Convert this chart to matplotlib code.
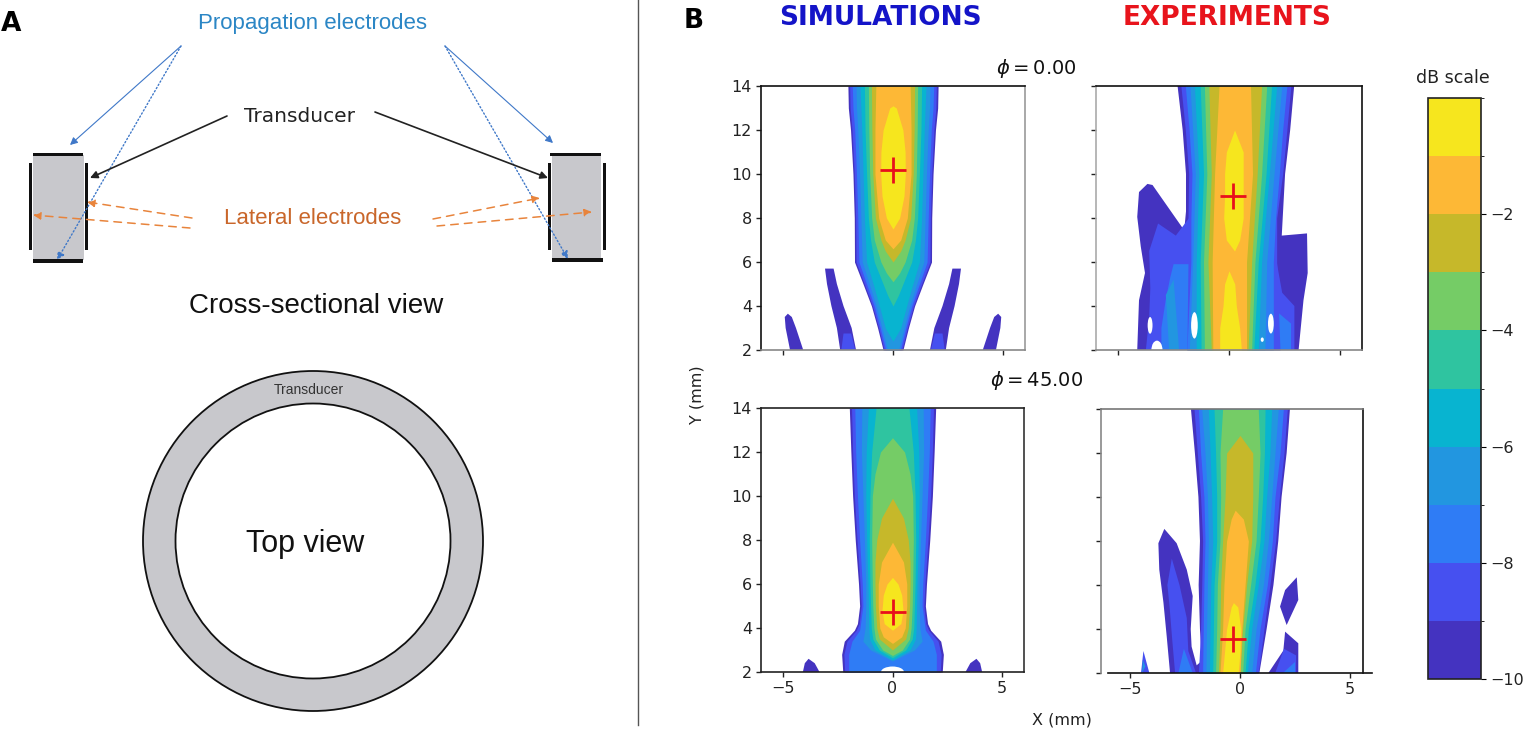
import matplotlib
matplotlib.use("Agg")
import matplotlib.pyplot as plt
from matplotlib.patches import Circle, Ellipse, Rectangle
from matplotlib.colors import ListedColormap, BoundaryNorm
from matplotlib.cm import ScalarMappable
import numpy as np

W, H = 1536, 731

# dB bands, from -10 up to 0
db_levels = [-10, -9, -8, -7, -6, -5, -4, -3, -2, -1, 0]
db_colors = ["#4433c0", "#4650f0", "#2f7cf5", "#2296e0", "#08b4d0",
             "#2fc4a0", "#75cc66", "#c6b82a", "#fdb836", "#f6e61e"]
cbar_ticks = [-2, -4, -6, -8, -10]
y_ticks = [2, 4, 6, 8, 10, 12, 14]
x_ticks = [-5, 0, 5]

# peak positions (x, y) in mm
peak_sim0 = (0.0, 10.2)
peak_exp0 = (0.2, 9.0)
peak_sim45 = (0.0, 4.75)
peak_exp45 = (-0.3, 3.55)

# simulations: (level, y, half width of the contour)
sim0_beam = [
    (-10, [2, 3, 4, 5, 6, 8, 10, 12, 13, 14], [.45, .7, .98, 1.36, 1.75, 1.76, 1.82, 1.93, 2.03, 2.05]),
    (-9, [2, 3, 4, 5, 6, 8, 10, 12, 13, 14], [.4, .65, .93, 1.3, 1.68, 1.70, 1.76, 1.86, 1.95, 1.97]),
    (-8, [2, 3, 4, 5, 6, 8, 10, 12, 13, 14], [.33, .58, .85, 1.2, 1.55, 1.6, 1.66, 1.74, 1.82, 1.85]),
    (-7, [2, 3, 4, 5, 6, 8, 10, 12, 13, 14], [.25, .5, .76, 1.08, 1.4, 1.46, 1.52, 1.6, 1.66, 1.68]),
    (-6, [2.4, 3, 4, 5, 6, 8, 10, 12, 14], [0, .35, .62, .9, 1.2, 1.3, 1.36, 1.42, 1.5]),
    (-5, [4.0, 4.5, 5, 6, 7, 8, 10, 12, 14], [0, .25, .45, .85, 1.02, 1.12, 1.2, 1.27, 1.3]),
    (-4, [5.1, 5.5, 6, 7, 8, 10, 12, 14], [0, .3, .55, .85, .97, 1.06, 1.1, 1.12]),
    (-3, [6.0, 6.5, 7, 8, 10, 12, 14], [0, .35, .55, .8, .92, .96, .98]),
    (-2, [6.6, 7, 8, 10, 12, 14], [0, .35, .65, .82, .82, .78]),
    (-1, [7.5, 8, 9, 10, 11, 12, 13, 13.1], [0, .3, .5, .56, .55, .45, .15, 0]),
]
sim45_beam = [
    (-10, [2, 2.8, 3.4, 3.9, 4.2, 5, 6, 8, 10, 12, 14], [2.27, 2.32, 2.2, 1.74, 1.6, 1.5, 1.55, 1.7, 1.82, 1.9, 1.97]),
    (-9, [2, 2.8, 3.4, 3.9, 4.2, 5, 6, 8, 10, 12, 14], [2.18, 2.22, 2.08, 1.65, 1.52, 1.43, 1.48, 1.62, 1.74, 1.82, 1.87]),
    (-8, [2, 2.8, 3.4, 3.9, 5, 6, 8, 10, 12, 14], [2.0, 2.0, 1.85, 1.5, 1.35, 1.38, 1.5, 1.6, 1.68, 1.72]),
    (-7, [2.5, 3, 3.4, 4, 5, 6, 8, 10, 12, 14], [0, 1.0, 1.35, 1.25, 1.22, 1.22, 1.28, 1.35, 1.42, 1.4]),
    (-6, [2.55, 3, 3.5, 4, 5, 6, 8, 10, 12, 14], [0, .8, 1.05, 1.08, 1.1, 1.12, 1.18, 1.22, 1.2, 1.1]),
    (-5, [2.65, 3, 3.5, 4, 5, 6, 8, 10, 12, 14], [0, .6, .9, .97, 1.0, 1.03, 1.06, 1.03, .95, .75]),
    (-4, [2.75, 3, 3.5, 4, 5, 6, 8, 10, 11, 12, 12.65], [0, .45, .78, .85, .9, .92, .95, .92, .8, .55, 0]),
    (-3, [3.0, 3.5, 4, 5, 6, 7, 8, 9, 9.9], [0, .6, .72, .78, .8, .8, .72, .5, 0]),
    (-2, [3.3, 3.6, 4, 5, 6, 7, 7.9], [0, .42, .58, .65, .65, .5, 0]),
    (-1, [3.9, 4.2, 4.8, 5.5, 6, 6.3], [0, .38, .48, .42, .25, 0]),
]

# side lobes: (level, x, y), mirrored around x = 0 for the simulations
sim0_lobes = [
    (-10, [-4.68, -4.88, -4.92, -4.78, -4.6, -4.41, -4.08], [2, 3, 3.5, 3.65, 3.5, 3, 2]),
    (-10, [-2.4, -2.55, -2.8, -3.0, -3.09, -2.7, -2.55, -2.25, -1.88, -1.68], [2, 3, 4, 5, 5.7, 5.7, 5, 4, 3, 2]),
    (-9, [-2.35, -2.25, -1.9, -1.72], [2, 2.75, 2.75, 2]),
]
sim45_lobes = [
    (-10, [-4.09, -4.0, -3.83, -3.55, -3.33], [2, 2.4, 2.6, 2.4, 2]),
]
sim45_holes = [(0, 2, 1.05, 0.5)]

# experiments: outlines and lobes (level, x, y)
exp0_lobes = [
    (-10, [-2.32, -2.09, -1.94, -1.94, -2.02, -3.45, -3.68, -4.06, -4.14, -3.98, -3.79, -4.06, -4.14,
           3.14, 3.36, 3.55, 3.52, 2.38, 2.53, 2.76, 2.94],
     [14, 12, 10, 8.3, 7.44, 9.5, 9.55, 9.18, 8.05, 6.7, 5.5, 4.26, 2, 2, 4.26, 5.5, 7.3, 7.2, 10, 12, 14]),
    (-10, [-3.9, -3.8, -3.72, -3.6], [2, 2.6, 2.9, 2]),
    (-9, [-1.8, -2.4, -3.2, -3.6, -3.55, -3.6, -3.75, -1.0, 1.6, 2.95, 2.95, 2.4, 2.15, 2.1],
     [8, 7.2, 7.75, 6.5, 4.8, 3.5, 2, 2, 2, 2, 4, 4.6, 6, 7]),
    (-8, [-2.5, -2.65, -2.85, -3.05, -3.05, -1.5, -1.7], [5.9, 5.3, 4.3, 3, 2, 2, 5.9]),
    (-8, [1.6, 2.1, 2.8, 2.8, 2.1, 1.6], [2, 2, 2, 3.2, 3.8, 5.6]),
    (-7, [-2.7, -2.85, -2.5, -2.25], [2, 4.5, 5.2, 2]),
]
exp45_lobes = [
    (-10, [-2.23, -2.05, -1.89, -1.82, -1.88, -1.82, -1.74, -1.97, -2.2, -2.24, -2.15, -2.42, -2.88, -3.44,
           -3.71, -3.67, -3.48, -3.33, -3.18, .88, 1.21, 1.52, 1.74, 1.89, 2.12, 2.27],
     [14, 12, 10, 8, 6, 4, 2.55, 2.35, 3.2, 4, 5.5, 6.7, 7.9, 8.55, 7.9, 6.7, 5.2, 3.65, 2, 2, 4, 6, 8, 10, 12, 14]),
    (-10, [2.58, 2.65, 2.12, 1.82, 2.05], [6.35, 5.32, 4.18, 5.02, 5.77]),
    (-10, [2.05, 2.65, 2.65, 1.29, 1.97], [3.88, 3.35, 2, 2, 3.02]),
    (-9, [-4.39, -4.12, -4.5], [3.0, 2, 2]),
    (-9, [-3.1, -3.3, -3.2, -3.08, -2.95, -2.0, -2.35, -2.42, -2.75], [7.2, 6, 5, 3.5, 2, 2, 3, 4.5, 6]),
    (-9, [2.0, 2.55, 2.55, 1.6], [3.1, 2.8, 2, 2]),
    (-8, [-2.8, -2.55, -2.15], [2, 3.1, 2]),
    (-8, [1.95, 2.5, 2.5], [2, 2.5, 2]),
    (-7, [-4.45, -4.3, -4.42], [2, 2.3, 2.6]),
]

# experiments: (level, y, left contour, right contour)
exp0_y = [2, 6, 10, 14]
exp0_beam = [
    (-7, exp0_y, [-1.79, -1.64, -1.52, -1.76], [1.62, 1.70, 2.03, 2.38]),
    (-6, exp0_y, [-1.48, -1.48, -1.36, -1.56], [1.32, 1.47, 1.82, 2.15]),
    (-5, exp0_y, [-1.26, -1.30, -1.15, -1.30], [1.12, 1.32, 1.67, 1.92]),
    (-4, exp0_y, [-1.11, -1.15, -1.0, -1.11], [1.02, 1.17, 1.47, 1.70]),
    (-3, exp0_y, [-.80, -.95, -.80, -.91], [.86, 1.02, 1.27, 1.47]),
    (-2, exp0_y, [-.73, -.76, -.65, -.45], [.79, .79, 1.06, .97]),
    (-1, [6.5, 7, 8, 9, 10, 11, 12], [.25, -.12, -.24, -.2, -.2, -.12, .25], [.25, .48, .64, .64, .64, .64, .25]),
    (-1, [2, 3, 4, 5, 5.6], [-.42, -.42, -.27, -.2, 0], [.56, .48, .33, .26, 0]),
]
exp0_beam_outer = [
    (-9, [2, 6, 8, 10, 12, 14], [-1.9, -1.85, -1.85, -1.82, -1.97, -2.17], [2.3, 2.15, 2.15, 2.42, 2.61, 2.79]),
    (-8, [2, 6, 8, 10, 12, 14], [-1.9, -1.72, -1.72, -1.67, -1.8, -1.97], [2.0, 2.0, 2.1, 2.27, 2.42, 2.61]),
]
exp0_holes = [(-3.56, 3.12, .22, .76), (-1.56, 3.12, .3, 1.2), (1.89, 3.2, .26, .9), (1.5, 2.47, .14, .2),
              (-3.25, 2.0, .5, .85)]

exp45_y = [2, 4, 6, 8, 10, 12, 14]
exp45_beam = [
    (-9, exp45_y, [-1.89, -1.79, -1.74, -1.70, -1.79, -1.94, -2.09], [.83, 1.09, 1.36, 1.62, 1.79, 2.0, 2.15]),
    (-8, exp45_y, [-1.70, -1.67, -1.64, -1.59, -1.64, -1.79, -1.89], [.70, .91, 1.24, 1.47, 1.59, 1.82, 1.97]),
    (-7, exp45_y, [-1.55, -1.52, -1.48, -1.44, -1.48, -1.59, -1.74], [.53, .73, 1.06, 1.29, 1.44, 1.59, 1.74]),
    (-6, exp45_y, [-1.39, -1.36, -1.33, -1.24, -1.29, -1.36, -1.44], [.33, .53, .83, 1.09, 1.21, 1.36, 1.44]),
    (-5, exp45_y, [-1.24, -1.21, -1.18, -1.06, -1.06, -1.11, -1.18], [.23, .38, .68, .91, 1.03, 1.11, 1.14]),
    (-4, exp45_y, [-1.11, -1.06, -1.03, -.91, -.88, -.91, -.79], [.12, .23, .48, .73, .83, .91, .83]),
    (-3, [2, 4, 6, 8, 10, 12, 12.8], [-.98, -.91, -.88, -.79, -.68, -.61, 0], [0, .12, .30, .53, .58, .58, 0]),
    (-2, [2, 4, 6, 8, 9, 9.4], [-.91, -.79, -.73, -.61, -.4, -.22], [0, .08, .23, .38, .15, -.22]),
    (-1, [2, 3, 4, 5, 5.2], [-.79, -.7, -.61, -.4, -.3], [-.08, 0, .03, -.1, -.3]),
]


def px_axes(fig, l, t, r, b):
    return fig.add_axes([l / W, 1 - b / H, (r - l) / W, (b - t) / H])


def band_color(level):
    return db_colors[level + 10]


def draw_sim(ax, lobes, beam, holes=()):
    for level, xs, ys in lobes:
        ax.fill(xs, ys, color=band_color(level), lw=0)
        ax.fill(-np.array(xs), ys, color=band_color(level), lw=0)
    for level, ys, half in beam:
        half = np.array(half)
        ax.fill_betweenx(ys, -half, half, color=band_color(level), lw=0)
    for x, y, w, h in holes:
        ax.add_patch(Ellipse((x, y), w, h, color="white", lw=0))


def draw_exp(ax, layers, holes=()):
    for level, xs, ys in layers[0]:
        ax.fill(xs, ys, color=band_color(level), lw=0)
    for beam in layers[1:]:
        for level, ys, left, right in beam:
            ax.fill_betweenx(ys, left, right, color=band_color(level), lw=0)
    for x, y, w, h in holes:
        ax.add_patch(Ellipse((x, y), w, h, color="white", lw=0))


def setup_axes(ax, peak, spine_cols, xlabels=False, ylabels=False, tickcol="#222222"):
    ax.set_xlim(-6, 6)
    ax.set_ylim(2, 14)
    ax.set_xticks(x_ticks)
    ax.set_yticks(y_ticks)
    ax.tick_params(labelsize=11.5, length=3.5, width=1.0, color=tickcol, labelcolor="#222222", pad=3,
                   labelbottom=xlabels, labelleft=ylabels)
    for side, col in spine_cols.items():
        ax.spines[side].set_color(col)
        ax.spines[side].set_linewidth(1.2)
    ax.plot(peak[0], peak[1], "+", color="#e8101c", ms=19, mew=2, zorder=5, clip_on=False)


fig = plt.figure(figsize=(W / 100, H / 100), dpi=100)

# panel A is a drawing, done in picture pixels on an overlay
bg = fig.add_axes([0, 0, 1, 1])
bg.set_xlim(0, W)
bg.set_ylim(H, 0)
bg.axis("off")

gray = "#c8c8cc"
for gx0, gx1 in [(33, 84), (552, 601)]:
    bg.add_patch(Rectangle((gx0, 155), gx1 - gx0, 105, color=gray, lw=0))
for x0, x1, y0, y1 in [(33, 83, 152.5, 156), (33, 83, 259, 262.5), (29, 31.5, 163, 250), (85, 88, 163, 250),
                       (550, 601, 152.5, 156), (552, 603, 258, 261.5), (548, 551, 163, 250), (603, 606, 163, 250)]:
    bg.add_patch(Rectangle((x0, y0), x1 - x0, y1 - y0, color="#111111", lw=0))

blue = "#3f78c8"
for (sx, sy), (ex, ey), ls, lw in [((181, 46), (70, 145), "-", .8), ((181, 46), (57, 260), ":", 1.0),
                                   ((445, 46), (553, 143), "-", .8), ((445, 46), (568, 259), ":", 1.0)]:
    bg.annotate("", xy=(ex, ey), xytext=(sx, sy),
                arrowprops=dict(arrowstyle="-|>", color=blue, lw=lw, ls=ls, mutation_scale=11, shrinkA=0, shrinkB=0))
for (sx, sy), (ex, ey) in [((227, 116), (90, 178)), ((375, 112), (548, 178))]:
    bg.annotate("", xy=(ex, ey), xytext=(sx, sy),
                arrowprops=dict(arrowstyle="-|>", color="#222222", lw=1.2, mutation_scale=11, shrinkA=0, shrinkB=0))
orange = "#e8843c"
for (sx, sy), (ex, ey) in [((192, 218), (87, 202)), ((190, 228), (33, 215)),
                           ((433, 219), (540, 198)), ((437, 226), (592, 212))]:
    bg.annotate("", xy=(ex, ey), xytext=(sx, sy),
                arrowprops=dict(arrowstyle="-|>", color=orange, lw=1.1, ls=(0, (5, 4)), mutation_scale=11,
                                shrinkA=0, shrinkB=0))

bg.add_patch(Circle((313, 541), 170, fc=gray, ec="#111111", lw=1.3))
bg.add_patch(Circle((313, 541), 137.5, fc="white", ec="#111111", lw=1.3))

bg.plot([638, 638], [0, 725], color="#555555", lw=1.0)

font_a = "Liberation Sans"
bg.text(313, 24, "Propagation electrodes", color="#2b86c5", fontsize=16, family=font_a, ha="center", va="center")
bg.text(300, 116, "Transducer", color="#222222", fontsize=14.5, family="DejaVu Sans", ha="center", va="center")
bg.text(313, 219, "Lateral electrodes", color="#c9662a", fontsize=16, family=font_a, ha="center", va="center")
bg.text(316, 306, "Cross-sectional view", color="#111111", fontsize=20, family=font_a, ha="center", va="center")
bg.text(305, 544, "Top view", color="#111111", fontsize=22, family=font_a, ha="center", va="center")
bg.text(309, 390, "Transducer", color="#333333", fontsize=10, family=font_a, ha="center", va="center")
bg.text(11, 24, "A", color="black", fontsize=19, fontweight="bold", ha="center", va="center")
bg.text(694, 21, "B", color="black", fontsize=19, fontweight="bold", ha="center", va="center")
bg.text(880, 18, "SIMULATIONS", color="#1414c8", fontsize=19, fontweight="bold", ha="center", va="center")
bg.text(1227, 18, "EXPERIMENTS", color="#e8141c", fontsize=19, fontweight="bold", ha="center", va="center")
bg.text(1036, 69, r"$\phi = 0.00$", color="#111111", fontsize=14, ha="center", va="center")
bg.text(1037, 381, r"$\phi = 45.00$", color="#111111", fontsize=14, ha="center", va="center")
bg.text(1453, 78, "dB scale", color="#222222", fontsize=12.5, ha="center", va="center")
bg.text(697, 395, "Y (mm)", color="#222222", fontsize=11.5, rotation=90, ha="center", va="center")
bg.text(1062, 720, "X (mm)", color="#222222", fontsize=11.5, ha="center", va="center")

# panel B
ax1 = px_axes(fig, 761, 86, 1025, 350)
draw_sim(ax1, sim0_lobes, sim0_beam)
setup_axes(ax1, peak_sim0, dict(top="#111111", left="#111111", right="#999999", bottom="#888888"), ylabels=True)

ax2 = px_axes(fig, 1096, 86, 1362, 350)
draw_exp(ax2, [exp0_lobes, exp0_beam_outer, exp0_beam], exp0_holes)
setup_axes(ax2, peak_exp0, dict(top="#111111", left="#aaaaaa", right="#111111", bottom="#888888"))

ax3 = px_axes(fig, 761, 408, 1024, 672)
draw_sim(ax3, sim45_lobes, sim45_beam, sim45_holes)
setup_axes(ax3, peak_sim45, dict(top="#222222", left="#222222", right="#333333", bottom="#222222"),
           xlabels=True, ylabels=True)

ax4 = px_axes(fig, 1108, 409, 1372, 673)
draw_exp(ax4, [exp45_lobes, exp45_beam])
setup_axes(ax4, peak_exp45, dict(top="#777777", left="#888888", right="#111111", bottom="#111111"), xlabels=True)
# this panel sits a bit off its own frame in the figure
ax4.spines["left"].set_position(("axes", -0.027))
ax4.spines["right"].set_position(("axes", 0.966))
ax4.spines["top"].set_bounds(-6.3, 5.6)
ax4.tick_params(axis="y", labelleft=False)

cax = px_axes(fig, 1428, 98, 1481, 679)
sm = ScalarMappable(norm=BoundaryNorm(db_levels, len(db_colors)), cmap=ListedColormap(db_colors))
cb = fig.colorbar(sm, cax=cax, ticks=cbar_ticks, spacing="proportional")
cb.ax.tick_params(labelsize=11.5, length=3.5, labelcolor="#222222")
cb.outline.set_linewidth(1.2)
cb.outline.set_edgecolor("#222222")

fig.savefig("out.png", dpi=100)
